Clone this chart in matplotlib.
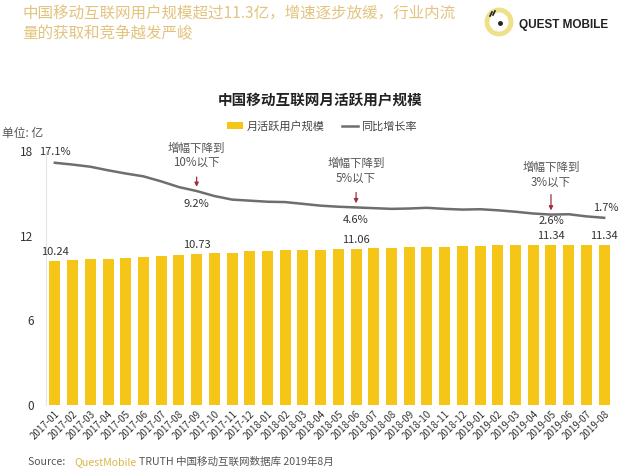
import matplotlib
matplotlib.use("Agg")
import matplotlib.pyplot as plt
from matplotlib.patches import Circle

plt.rcParams['font.family'] = ['Noto Sans CJK SC', 'DejaVu Sans']

# 月份
months = ['2017-01', '2017-02', '2017-03', '2017-04', '2017-05', '2017-06', '2017-07', '2017-08',
          '2017-09', '2017-10', '2017-11', '2017-12', '2018-01', '2018-02', '2018-03', '2018-04',
          '2018-05', '2018-06', '2018-07', '2018-08', '2018-09', '2018-10', '2018-11', '2018-12',
          '2019-01', '2019-02', '2019-03', '2019-04', '2019-05', '2019-06', '2019-07', '2019-08']
# 月活跃用户规模 (亿)
mau = [10.24, 10.28, 10.33, 10.38, 10.45, 10.50, 10.56, 10.64,
       10.73, 10.78, 10.80, 10.88, 10.92, 10.95, 10.98, 11.00,
       11.03, 11.06, 11.10, 11.14, 11.17, 11.20, 11.23, 11.26,
       11.30, 11.32, 11.31, 11.31, 11.34, 11.36, 11.33, 11.34]
# 同比增长率 (%)
growth = [17.1, 16.6, 16.0, 15.0, 14.1, 13.3, 11.9, 10.3,
          9.2, 7.8, 6.8, 6.5, 6.2, 6.1, 5.6, 5.1,
          4.8, 4.6, 4.4, 4.2, 4.3, 4.5, 4.2, 4.0,
          4.1, 3.8, 3.4, 2.9, 2.6, 2.7, 2.1, 1.7]

bar_label_idx = [0, 8, 17, 28, 31]
rate_below = {8: -8, 17: -8, 28: -1}   # 标签下移像素
notes = {8: ('增幅下降到\n10%以下', 22, 14),
         17: ('增幅下降到\n5%以下', 23, 15),
         28: ('增幅下降到\n3%以下', 26, 20)}

yellow = '#F5C518'
gray = '#6E6E6E'
txt = '#555555'

fig = plt.figure(figsize=(6.4, 4.76), dpi=100)

# 顶部标题和logo
fig.text(22 / 640, 1 - 13 / 476, '中国移动互联网用户规模超过11.3亿，增速逐步放缓，行业内流',
         fontsize=11.2, color='#E3C47E', va='center', ha='left')
fig.text(22 / 640, 1 - 34 / 476, '量的获取和竞争越发严峻',
         fontsize=11.2, color='#E3C47E', va='center', ha='left')
logo_ax = fig.add_axes([0, 0, 1, 1], facecolor='none')
logo_ax.set_xlim(0, 640)
logo_ax.set_ylim(476, 0)
logo_ax.axis('off')
logo_ax.add_patch(Circle((499, 22), 12, fill=False, lw=3.5, ec='#EFE08A'))
logo_ax.plot([500], [23], 'o', color='#222222', ms=2.5)
logo_ax.plot([490, 492], [16, 12], color='#222222', lw=1.2)
logo_ax.plot([493, 495], [15, 11], color='#222222', lw=1.2)
fig.text(519 / 640, 1 - 25 / 476, 'QUEST MOBILE', fontsize=8.5, fontweight='bold',
         color='#222222', va='center', ha='left', family=['Liberation Sans', 'DejaVu Sans'])

fig.text(0.5, 1 - 100 / 476, '中国移动互联网月活跃用户规模', fontsize=10.5, fontweight='bold',
         color='#222222', ha='center', va='center')
fig.text(2 / 640, 1 - 133 / 476, '单位: 亿', fontsize=8.5, color=txt, va='center')
fig.text(28 / 640, 1 - 462 / 476, 'Source: ', fontsize=7.6, color=txt, va='center')
fig.text(74 / 640, 1 - 462 / 476, 'QuestMobile', fontsize=7.6, color='#D9B84A', va='center')
fig.text(139 / 640, 1 - 462 / 476, 'TRUTH 中国移动互联网数据库 2019年8月', fontsize=7.6,
         color=txt, va='center')

ax = fig.add_axes([46 / 640, 1 - 405 / 476, 567 / 640, 254 / 476])
x = list(range(len(months)))
bars = ax.bar(x, mau, width=0.62, color=yellow, label='月活跃用户规模')
ax.set_xlim(-0.5, len(months) - 0.5)
ax.set_ylim(0, 18)
ax.set_yticks([0, 6, 12, 18])
ax.tick_params(axis='y', length=0, labelsize=8.5, labelcolor='#333333', pad=9)
ax.set_xticks(x)
ax.set_xticklabels(months, rotation=45, ha='right', rotation_mode='anchor', fontsize=7,
                   color='#333333')
ax.tick_params(axis='x', length=0, pad=3)
for s in ['top', 'right', 'bottom']:
    ax.spines[s].set_visible(False)
ax.spines['left'].set_color('#E4E4E4')
for i in bar_label_idx:
    ax.annotate('%.2f' % mau[i], xy=(i, mau[i]), xytext=(0, 4), textcoords='offset pixels',
                ha='center', va='bottom', fontsize=8, color='#333333')

ax2 = ax.twinx()
ax2.set_ylim(-50.7, 20.4)
ax2.axis('off')
line, = ax2.plot(x, growth, color=gray, lw=1.8, label='同比增长率')

ax2.annotate('%.1f%%' % growth[0], xy=(0, growth[0]), xytext=(0, 6), textcoords='offset pixels',
             ha='center', va='bottom', fontsize=8, color='#333333')
ax2.annotate('%.1f%%' % growth[-1], xy=(31, growth[-1]), xytext=(2, 5), textcoords='offset pixels',
             ha='center', va='bottom', fontsize=8, color='#333333')
for i, dy in rate_below.items():
    ax2.annotate('%.1f%%' % growth[i], xy=(i, growth[i]), xytext=(0, dy), textcoords='offset pixels',
                 ha='center', va='top', fontsize=8, color='#333333')
for i, (s, ty, ay) in notes.items():
    ax2.annotate('', xy=(i, growth[i]), xytext=(0, ay), textcoords='offset pixels',
                 arrowprops=dict(arrowstyle='-|>', color='#A03040', lw=0.9, shrinkA=0, shrinkB=3,
                                 mutation_scale=6))
    ax2.annotate(s, xy=(i, growth[i]), xytext=(0, ty), textcoords='offset pixels',
                 ha='center', va='bottom', fontsize=8.3, color='#555555', linespacing=1.15)

fig.legend(handles=[bars, line], loc='center', bbox_to_anchor=(322 / 640, 1 - 126 / 476),
           ncol=2, frameon=False, fontsize=8, handlelength=1.4, handleheight=0.5,
           columnspacing=1.6, handletextpad=0.3, labelcolor='#444444')

fig.savefig('out.png', dpi=100)
